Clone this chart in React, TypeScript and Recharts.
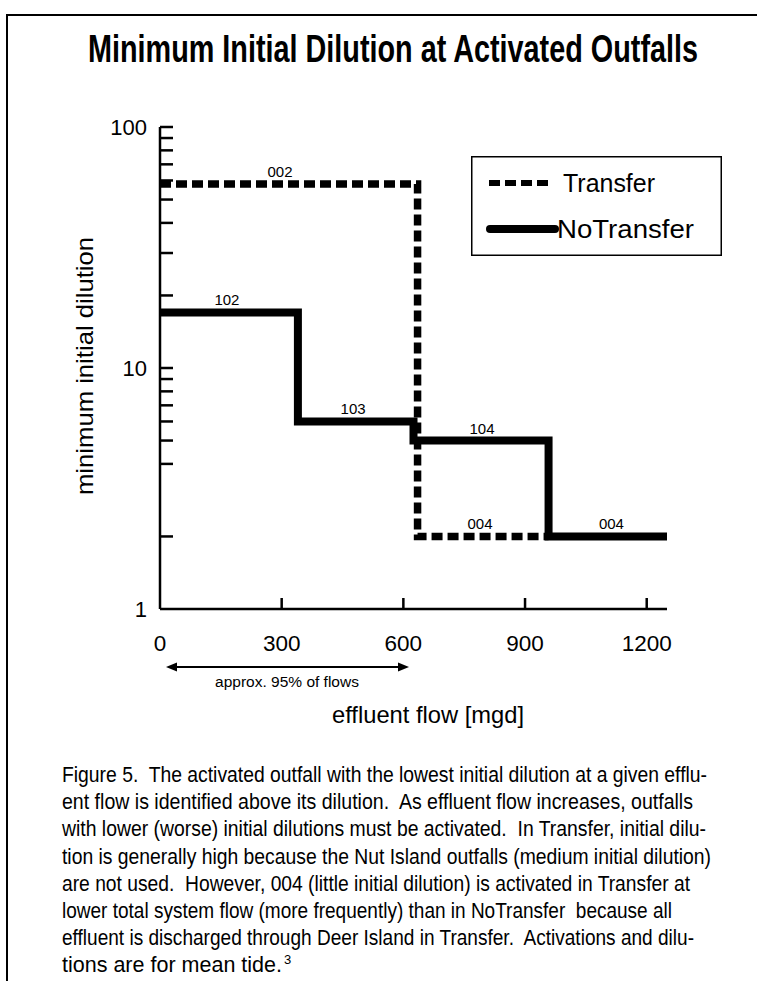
import React from "react";
import {
  LineChart,
  Line,
  XAxis,
  YAxis,
  Legend,
  ReferenceDot,
} from "recharts";

// step curves (flow in mgd, minimum initial dilution)
const transferFlow = [0, 635, 958];
const transferDilution = [58, 2, 2];
const noTransferFlow = [0, 340, 625, 958, 1250];
const noTransferDilution = [17, 6, 5, 2, 2];

// outfall names written above each step
const outfallNames = ["002", "102", "103", "104", "004", "004"];
const outfallFlow = [296, 165, 476, 794, 789, 1113];
const outfallDilution = [58, 17, 6, 5, 2, 2];

const xTicks = [0, 300, 600, 900, 1200];
const yTicks = [1, 2, 4, 5, 6, 7, 8, 9, 10, 20, 30, 40, 50, 60, 70, 80, 90, 100];
const yLabelled = [1, 10, 100];
const legendOrder = ["Transfer", "NoTransfer"];

const captionLines = [
  "Figure 5.  The activated outfall with the lowest initial dilution at a given efflu-",
  "ent flow is identified above its dilution.  As effluent flow increases, outfalls",
  "with lower (worse) initial dilutions must be activated.  In Transfer, initial dilu-",
  "tion is generally high because the Nut Island outfalls (medium initial dilution)",
  "are not used.  However, 004 (little initial dilution) is activated in Transfer at",
  "lower total system flow (more frequently) than in NoTransfer  because all",
  "effluent is discharged through Deer Island in Transfer.  Activations and dilu-",
  "tions are for mean tide.",
];
const captionWidths = [645, 631, 644, 649, 628, 610, 632, 220];

const transferData = transferFlow.map((f, i) => ({ flow: f, dilution: transferDilution[i] }));
const noTransferData = noTransferFlow.map((f, i) => ({ flow: f, dilution: noTransferDilution[i] }));

const FONT = "'Liberation Sans', Arial, Helvetica, sans-serif";

const YTick = (props: any) => {
  const { x, y, payload } = props;
  const v = payload.value;
  return (
    <g>
      {v !== 1 && <line x1={x} x2={x + 13} y1={y} y2={y} stroke="#000" strokeWidth={2.5} />}
      {yLabelled.includes(v) && (
        <text x={x - 13} y={y} textAnchor="end" dominantBaseline="central" fontSize={22} fontFamily={FONT} fill="#000">
          {v}
        </text>
      )}
    </g>
  );
};

const XTick = (props: any) => {
  const { x, y, payload } = props;
  return (
    <g>
      {payload.value !== 0 && <line x1={x} x2={x} y1={y} y2={y - 11} stroke="#000" strokeWidth={2.5} />}
      <text x={x} y={y + 34} textAnchor="middle" dominantBaseline="central" fontSize={22.5} fontFamily={FONT} fill="#000">
        {payload.value}
      </text>
    </g>
  );
};

const renderLegend = (props: any) => {
  const payload = [...(props.payload || [])].sort(
    (a: any, b: any) => legendOrder.indexOf(a.value) - legendOrder.indexOf(b.value)
  );
  const rows = [27, 73];
  return (
    <svg width={251} height={100} style={{ display: "block" }}>
      <rect x={0.75} y={0.75} width={249.5} height={98.5} fill="#fff" stroke="#000" strokeWidth={1.5} />
      {payload.map((entry: any, i: number) => {
        const y = rows[i];
        const dashed = entry.value === "Transfer";
        return (
          <g key={entry.value}>
            {dashed ? (
              <line x1={18} x2={78} y1={y} y2={y} stroke="#000" strokeWidth={6} strokeDasharray="11 5" />
            ) : (
              <line x1={19} x2={84} y1={y} y2={y} stroke="#000" strokeWidth={8} strokeLinecap="round" />
            )}
            <text
              x={dashed ? 92 : 86}
              y={y}
              dominantBaseline="central"
              fontSize={25}
              fontFamily={FONT}
              textLength={dashed ? 92 : 137}
              lengthAdjust="spacingAndGlyphs"
              fill="#000"
            >
              {entry.value}
            </text>
          </g>
        );
      })}
    </svg>
  );
};

export default function App() {
  return (
    <div style={{ position: "absolute", left: 0, top: 0, width: 763, height: 981, background: "#fff" }}>
      <LineChart
        width={763}
        height={700}
        margin={{ top: 127, right: 96, left: 100, bottom: 61 }}
      >
        <XAxis
          dataKey="flow"
          type="number"
          domain={[0, 1250]}
          ticks={xTicks}
          interval={0}
          allowDataOverflow
          height={30}
          tickSize={0}
          tickMargin={0}
          tickLine={false}
          axisLine={{ stroke: "#000", strokeWidth: 2.5 }}
          tick={(p: any) => <XTick {...p} />}
        />
        <YAxis
          dataKey="dilution"
          type="number"
          scale="log"
          domain={[1, 100]}
          ticks={yTicks}
          interval={0}
          allowDataOverflow
          width={60}
          tickSize={0}
          tickMargin={0}
          tickLine={false}
          axisLine={{ stroke: "#000", strokeWidth: 2.5 }}
          tick={(p: any) => <YTick {...p} />}
        />
        <Legend
          verticalAlign="middle"
          align="center"
          layout="horizontal"
          wrapperStyle={{ position: "absolute", top: 156, left: 471, width: 251, height: 100 }}
          content={renderLegend}
        />
        <Line
          name="Transfer"
          data={transferData}
          dataKey="dilution"
          type="stepAfter"
          stroke="#000"
          strokeWidth={7.5}
          strokeDasharray="11 5"
          dot={false}
          activeDot={false}
          isAnimationActive={false}
        />
        <Line
          name="NoTransfer"
          data={noTransferData}
          dataKey="dilution"
          type="stepAfter"
          stroke="#000"
          strokeWidth={8}
          strokeLinecap="round"
          strokeLinejoin="miter"
          dot={false}
          activeDot={false}
          isAnimationActive={false}
        />
        {outfallNames.map((name, i) => (
          <ReferenceDot
            key={i}
            x={outfallFlow[i]}
            y={outfallDilution[i]}
            r={0}
            fill="none"
            stroke="none"
            ifOverflow="visible"
            label={{ value: name, position: "top", offset: 7, fontSize: 15, fill: "#000", fontFamily: FONT }}
          />
        ))}
      </LineChart>

      <svg
        width={763}
        height={981}
        style={{ position: "absolute", left: 0, top: 0, pointerEvents: "none" }}
      >
        {/* frame */}
        <line x1={6} x2={757} y1={15} y2={15} stroke="#000" strokeWidth={2} />
        <line x1={7} x2={7} y1={14} y2={981} stroke="#000" strokeWidth={2} />

        {/* condensed look: smaller font stretched vertically */}
        <g transform="translate(88 62) scale(1 1.27)">
          <text
            x={0}
            y={0}
            fontSize={30}
            fontWeight="bold"
            fontFamily={FONT}
            textLength={610}
            lengthAdjust="spacingAndGlyphs"
            fill="#000"
          >
            Minimum Initial Dilution at Activated Outfalls
          </text>
        </g>

        <text
          transform="translate(93 495) rotate(-90)"
          fontSize={24}
          fontFamily={FONT}
          textLength={258}
          lengthAdjust="spacingAndGlyphs"
          fill="#000"
        >
          minimum initial dilution
        </text>

        <text x={332} y={723} fontSize={24} fontFamily={FONT} textLength={192} lengthAdjust="spacingAndGlyphs" fill="#000">
          effluent flow [mgd]
        </text>

        {/* approx. 95% of flows arrow */}
        <line x1={174} x2={401} y1={667} y2={667} stroke="#000" strokeWidth={2} />
        <polygon points="166,667 177,662.5 177,671.5" fill="#000" />
        <polygon points="409,667 398,662.5 398,671.5" fill="#000" />
        <text x={287} y={681} textAnchor="middle" dominantBaseline="central" fontSize={15.5} fontFamily={FONT} fill="#000">
          approx. 95% of flows
        </text>

        {captionLines.map((line, i) => (
          <g key={i} transform={`translate(62 ${782 + i * 27.2}) scale(1 1.25)`}>
            <text
              x={0}
              y={0}
              fontSize={17}
              fontFamily={FONT}
              textLength={captionWidths[i]}
              lengthAdjust="spacingAndGlyphs"
              style={{ whiteSpace: "pre" }}
              fill="#000"
            >
              {line}
            </text>
          </g>
        ))}
        <text x={284} y={782 + 7 * 27.2 - 8} fontSize={13} fontFamily={FONT} fill="#000">
          3
        </text>
      </svg>
    </div>
  );
}
